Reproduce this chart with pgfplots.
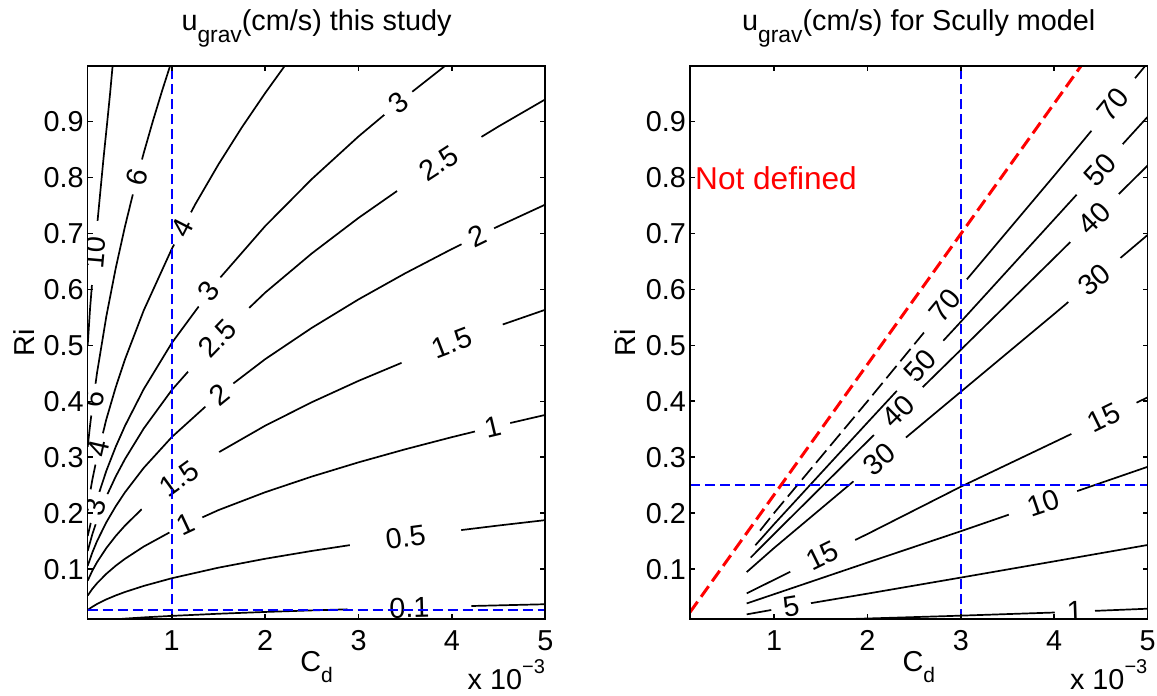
\documentclass[border=0pt]{standalone}
\usepackage{fontspec}
\setmainfont{Liberation Sans}
\usepackage{pgfplots}
\pgfplotsset{compat=1.18}
\newcommand{\fs}{\fontsize{14.4}{17}\selectfont}
\pgfplotsset{
  myax/.style={
    anchor=south west, scale only axis, width=228.8pt, height=276.8pt,
    xmin=0.1, xmax=5, ymin=0.0107, ymax=0.9993,
    xtick={1,2,3,4,5}, xticklabels={1,2,3,4,5},
    ytick={0.1,0.2,0.3,0.4,0.5,0.6,0.7,0.8,0.9},
    yticklabels={0.1,0.2,0.3,0.4,0.5,0.6,0.7,0.8,0.9},
    tick align=inside, major tick length=2.5pt,
    axis on top,
    axis line style={line width=0.8pt},
    major tick style={line width=0.8pt, black},
    tick label style={font=\fs, /pgf/number format/assume math mode=true},
    xticklabel style={inner sep=0pt, anchor=north, yshift=-5.35pt},
    yticklabel style={inner sep=0pt, anchor=east, xshift=-1.85pt},
  },
  cl/.style={black, line width=0.85pt, no marks},
  bl/.style={blue, line width=1pt, dash pattern=on 5pt off 2.5pt, no marks},
}
\begin{document}
\begin{tikzpicture}[
  clab/.style={fill=white, inner ysep=0pt, inner xsep=#1, font=\fs, anchor=center},
  clab/.default=5pt]
\useasboundingbox (0,0) rectangle (578.5pt,348pt);

% ---------------- left panel ----------------
\begin{axis}[myax, at={(43.85pt,38.35pt)}]
% level 0.1
\addplot[cl] coordinates {(0.36,0.0101) (0.5,0.0119) (0.7,0.0141) (1,0.0168) (1.5,0.0206) (2,0.0238) (2.5,0.0266) (3,0.0291) (3.5,0.0314) (4,0.0336) (4.5,0.0356) (5,0.0376)};
% level 0.5
\addplot[cl] coordinates {(0.1,0.0275) (0.15,0.033) (0.2,0.038) (0.3,0.0463) (0.4,0.0533) (0.5,0.0595) (0.7,0.0703) (1,0.084) (1.5,0.1029) (2,0.1188) (2.5,0.1328) (3,0.1455) (3.5,0.1571) (4,0.168) (4.5,0.1782) (5,0.1878)};
% level 1
\addplot[cl] coordinates {(0.1,0.0531) (0.15,0.0651) (0.2,0.0751) (0.3,0.092) (0.4,0.1063) (0.5,0.1188) (0.7,0.1406) (1,0.168) (1.5,0.2057) (2,0.2376) (2.5,0.2656) (3,0.291) (3.5,0.3143) (4,0.336) (4.5,0.3564) (5,0.3757)};
% level 1.5
\addplot[cl] coordinates {(0.1,0.0797) (0.15,0.0976) (0.2,0.1127) (0.3,0.138) (0.4,0.1594) (0.5,0.1782) (0.7,0.2108) (1,0.252) (1.5,0.3086) (2,0.3564) (2.5,0.3984) (3,0.4365) (3.5,0.4714) (4,0.504) (4.5,0.5346) (5,0.5635)};
% level 2
\addplot[cl] coordinates {(0.1,0.1062) (0.15,0.1301) (0.2,0.1503) (0.3,0.184) (0.4,0.2125) (0.5,0.2376) (0.7,0.2811) (1,0.336) (1.5,0.4115) (2,0.4752) (2.5,0.5312) (3,0.582) (3.5,0.6286) (4,0.672) (4.5,0.7128) (5,0.7513)};
% level 2.5
\addplot[cl] coordinates {(0.1,0.1328) (0.15,0.1627) (0.2,0.1878) (0.3,0.23) (0.4,0.2657) (0.5,0.297) (0.7,0.3514) (1,0.42) (1.5,0.5144) (2,0.594) (2.5,0.6641) (3,0.7275) (3.5,0.7857) (4,0.84) (4.5,0.8909) (5,0.9392)};
% level 3
\addplot[cl] coordinates {(0.1,0.1594) (0.15,0.1952) (0.2,0.2254) (0.3,0.276) (0.4,0.3188) (0.5,0.3564) (0.7,0.4217) (1,0.504) (1.5,0.6172) (2,0.7128) (2.5,0.7969) (3,0.873) (3.5,0.9429) (3.95,1.002)};
% level 4
\addplot[cl] coordinates {(0.1,0.2125) (0.15,0.2603) (0.2,0.3005) (0.3,0.3681) (0.4,0.425) (0.5,0.4752) (0.7,0.5623) (1,0.672) (1.25,0.7513) (1.5,0.823) (1.75,0.889) (2,0.9503) (2.22,1.0013)};
% level 6
\addplot[cl] coordinates {(0.1,0.3187) (0.125,0.3564) (0.15,0.3904) (0.2,0.4508) (0.3,0.5521) (0.4,0.6376) (0.5,0.7128) (0.6,0.7808) (0.7,0.8434) (0.8,0.9016) (0.9,0.9563) (0.99,1.003)};
% level 10
\addplot[cl] coordinates {(0.1,0.50) (0.125,0.565) (0.15,0.617) (0.19,0.695) (0.23,0.765) (0.27,0.835) (0.31,0.9) (0.34,0.95) (0.37,1.005)};
% labels
\node[clab=8pt, rotate=85] at (axis cs:0.175,0.665) {10};
\node[clab, rotate=75] at (axis cs:0.631,0.8007) {6};
\node[clab=4pt, rotate=82] at (axis cs:0.16,0.403) {6};
\node[clab, rotate=63] at (axis cs:1.113,0.709) {4};
\node[clab=4pt, rotate=77] at (axis cs:0.22,0.315) {4};
\node[clab=4pt, rotate=74] at (axis cs:0.175,0.2108) {3};
\node[clab, rotate=52] at (axis cs:1.399,0.596) {3};
\node[clab, rotate=39] at (axis cs:3.424,0.9326) {3};
\node[clab=12pt, rotate=46] at (axis cs:1.488,0.5123) {2.5};
\node[clab=15pt, rotate=33] at (axis cs:3.86,0.825) {2.5};
\node[clab, rotate=39] at (axis cs:1.506,0.412) {2};
\node[clab, rotate=26] at (axis cs:4.277,0.695) {2};
\node[clab=14pt, rotate=36] at (axis cs:1.078,0.2617) {1.5};
\node[clab=17pt, rotate=21] at (axis cs:4.0,0.504) {1.5};
\node[clab, rotate=25] at (axis cs:1.149,0.18) {1};
\node[clab, rotate=13.4] at (axis cs:4.436,0.354) {1};
\node[clab=18pt, rotate=7.6] at (axis cs:3.504,0.157) {0.5};
\node[clab=21pt, rotate=1.5] at (axis cs:3.544,0.0316) {0.1};
% blue guide lines
\addplot[bl] coordinates {(1,0.0107) (1,0.9993)};
\addplot[bl] coordinates {(0.1,0.028) (5,0.028)};
\end{axis}

% ---------------- right panel ----------------
\begin{axis}[myax, at={(345pt,38.35pt)}]
\addplot[cl] coordinates {(1.72,0.0107) (2.888,0.0166) (4,0.0228) (5,0.0296)};
\addplot[cl] coordinates {(0.707,0.0195) (1,0.0282) (1.5,0.0425) (2,0.0565) (3,0.0852) (4,0.1142) (5,0.1434)};
\addplot[cl] coordinates {(0.707,0.039) (1,0.0555) (2,0.112) (3,0.168) (4,0.2255) (5,0.283)};
\addplot[cl] coordinates {(0.707,0.057) (1.5,0.1225) (2,0.163) (3,0.2475) (4,0.327) (5,0.407)};
\addplot[cl] coordinates {(0.707,0.095) (1,0.138) (2,0.278) (3,0.417) (4,0.556) (5,0.697)};
\addplot[cl] coordinates {(0.75,0.121) (1,0.163) (2,0.3284) (3,0.492) (4,0.656) (5,0.821)};
\addplot[cl] coordinates {(0.8,0.143) (1,0.1805) (2,0.362) (3,0.542) (4,0.725) (5,0.908)};
\addplot[cl, dash pattern=on 8pt off 3pt] coordinates {(0.85,0.169) (1,0.2005) (2,0.4) (2.7,0.542)};
\addplot[cl] coordinates {(2.7,0.542) (3,0.605) (4,0.803) (4.98,1.0)};
% labels
\node[clab=9pt, rotate=50.3] at (axis cs:4.632,0.930) {70};
\node[clab=9pt, rotate=50.3] at (axis cs:2.83,0.571) {70};
\node[clab=9pt, rotate=47.4] at (axis cs:4.49,0.8136) {50};
\node[clab=9pt, rotate=47.4] at (axis cs:2.56,0.4639) {50};
\node[clab=9pt, rotate=44.6] at (axis cs:4.43,0.7274) {40};
\node[clab=9pt, rotate=44.6] at (axis cs:2.33,0.3826) {40};
\node[clab=9pt, rotate=39.9] at (axis cs:4.43,0.6167) {30};
\node[clab=9pt, rotate=39.9] at (axis cs:2.13,0.2965) {30};
\node[clab=10pt, rotate=26.1] at (axis cs:1.52,0.1243) {15};
\node[clab=10pt, rotate=26.1] at (axis cs:4.53,0.3706) {15};
\node[clab=10pt, rotate=18.7] at (axis cs:3.88,0.2184) {10};
\node[clab=6pt, rotate=9.7] at (axis cs:1.182,0.0337) {5};
\node[clab=6pt, rotate=2] at (axis cs:4.22,0.0249) {1};
% guide lines
\addplot[bl] coordinates {(3,0.0107) (3,0.9993)};
\addplot[bl] coordinates {(0.1,0.25) (5,0.25)};
\addplot[red, line width=1.5pt, dash pattern=on 6.5pt off 3pt, no marks] coordinates {(0.1,0.0233) (4.288,0.999)};
\end{axis}

% titles and axis labels
\node[anchor=base, inner sep=0pt, font=\fs] at (158.25pt,332.5pt) {u\raisebox{-5.8pt}{\fontsize{11.4}{13}\selectfont grav}(cm/s) this study};
\node[anchor=base, inner sep=0pt, font=\fs] at (459.4pt,332.5pt) {u\raisebox{-5.8pt}{\fontsize{11.4}{13}\selectfont grav}(cm/s) for Scully model};
\node[anchor=base, inner sep=0pt, font=\fs] at (158.25pt,12pt) {C\raisebox{-5.5pt}{\fontsize{10.5}{12}\selectfont d}};
\node[anchor=base, inner sep=0pt, font=\fs] at (459.4pt,12pt) {C\raisebox{-5.5pt}{\fontsize{10.5}{12}\selectfont d}};
\node[anchor=base east, inner sep=0pt, font=\fs] at (272.65pt,3pt) {x 10\raisebox{8.3pt}{\fontsize{10}{12}\selectfont −3}};
\node[anchor=base east, inner sep=0pt, font=\fs] at (573.85pt,3pt) {x 10\raisebox{8.3pt}{\fontsize{10}{12}\selectfont −3}};
\node[rotate=90, anchor=base, inner sep=0pt, font=\fs] at (17pt,176.75pt) {Ri};
\node[rotate=90, anchor=base, inner sep=0pt, font=\fs] at (317.8pt,176.75pt) {Ri};
\node[anchor=base west, inner sep=0pt, text=red, font=\fontsize{15.8}{19}\selectfont] at (347.4pt,253pt) {Not defined};
\end{tikzpicture}
\end{document}
